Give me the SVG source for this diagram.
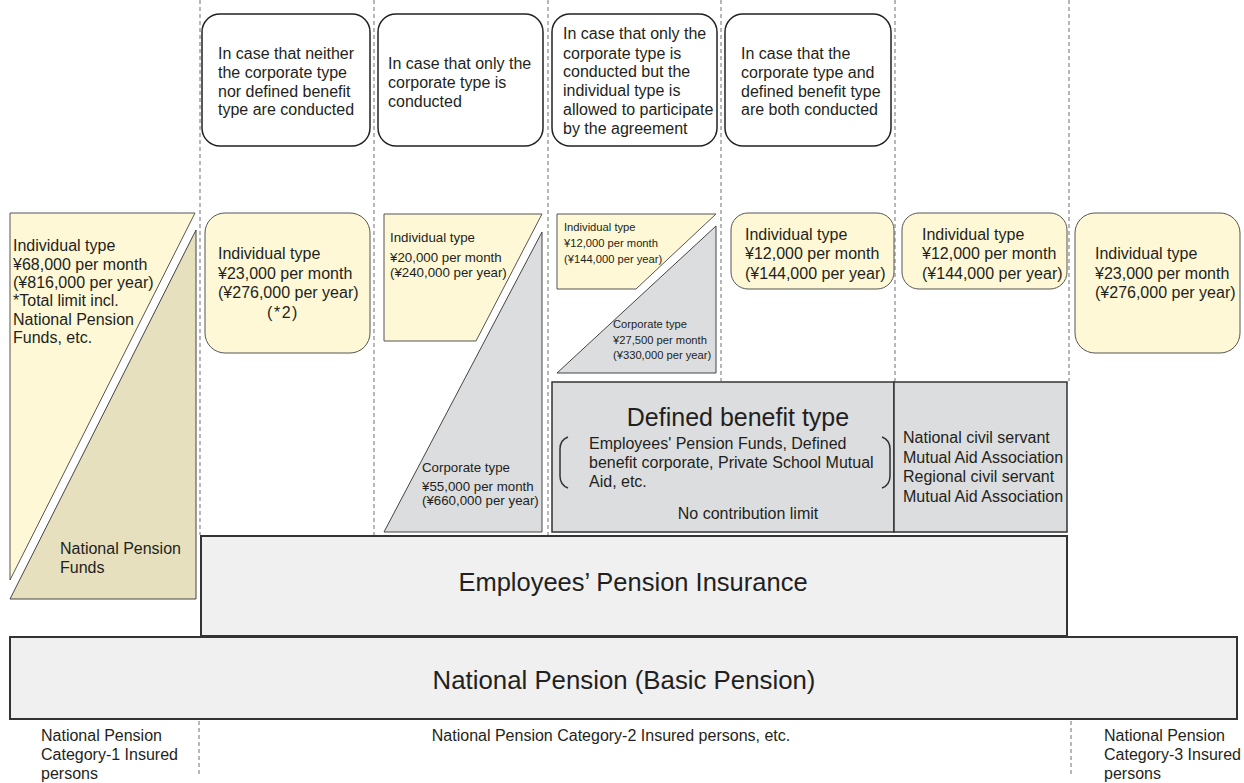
<svg xmlns="http://www.w3.org/2000/svg" width="1244" height="783" viewBox="0 0 1244 783">
<style>
text{font-family:"Liberation Sans",Arial,sans-serif;fill:#231f20}
.t16{font-size:16px}
.t13{font-size:13.3px}
.t11{font-size:11.2px}
.big{font-size:25px}
.case{fill:#fff;stroke:#222;stroke-width:1.5}
.yel{fill:#fef8d6;stroke:#555;stroke-width:1}
.beige{fill:#e6e0bf;stroke:#444;stroke-width:1}
.grey{fill:#dcdddf;stroke:#444;stroke-width:1}
.db{fill:#dcdddf;stroke:#333;stroke-width:1.5}
.base{fill:#eff0ef;stroke:#333;stroke-width:2}
.div{stroke:#888;stroke-width:1.2;stroke-dasharray:4 3;fill:none}
.brk{fill:none;stroke:#333;stroke-width:1.5}
.lab{font-size:16px}
</style>

<g id="dividers">
<line class="div" x1="200" y1="0" x2="200" y2="535"/>
<line class="div" x1="374" y1="0" x2="374" y2="535"/>
<line class="div" x1="548" y1="0" x2="548" y2="535"/>
<line class="div" x1="721" y1="0" x2="721" y2="381"/>
<line class="div" x1="895" y1="0" x2="895" y2="381"/>
<line class="div" x1="1069" y1="0" x2="1069" y2="381"/>
<line class="div" x1="199" y1="721" x2="199" y2="776"/>
<line class="div" x1="1071" y1="721" x2="1071" y2="776"/>
</g>

<g id="case1">
<rect class="case" x="202" y="14" width="168" height="132" rx="18"/>
<text class="t16"><tspan x="218" y="59">In case that neither</tspan><tspan x="218" y="78">the corporate type</tspan><tspan x="218" y="96.5">nor defined benefit</tspan><tspan x="218" y="115">type are conducted</tspan></text>
</g>
<g id="case2">
<rect class="case" x="378" y="14" width="165" height="132" rx="18"/>
<text class="t16"><tspan x="388" y="69">In case that only the</tspan><tspan x="388" y="88">corporate type is</tspan><tspan x="388" y="107">conducted</tspan></text>
</g>
<g id="case3">
<rect class="case" x="552" y="14" width="165" height="132" rx="18"/>
<text class="t16"><tspan x="563" y="39">In case that only the</tspan><tspan x="563" y="58.5">corporate type is</tspan><tspan x="563" y="77">conducted but the</tspan><tspan x="563" y="96">individual type is</tspan><tspan x="563" y="115">allowed to participate</tspan><tspan x="563" y="134">by the agreement</tspan></text>
</g>
<g id="case4">
<rect class="case" x="725" y="14" width="166" height="132" rx="18"/>
<text class="t16"><tspan x="741" y="59">In case that the</tspan><tspan x="741" y="78">corporate type and</tspan><tspan x="741" y="96.5">defined benefit type</tspan><tspan x="741" y="115">are both conducted</tspan></text>
</g>

<g id="cat1-individual">
<polygon class="yel" points="10,213 195,213 10,580"/>
<text class="t16"><tspan x="13" y="251">Individual type</tspan><tspan x="13" y="269.5">¥68,000 per month</tspan><tspan x="13" y="288">(¥816,000 per year)</tspan><tspan x="13" y="306">*Total limit incl.</tspan><tspan x="13" y="324.5">National Pension</tspan><tspan x="13" y="343">Funds, etc.</tspan></text>
</g>
<g id="national-pension-funds">
<polygon class="beige" points="196,230 196,599 10,599"/>
<text class="t16"><tspan x="60" y="554">National Pension</tspan><tspan x="60" y="573">Funds</tspan></text>
</g>

<g id="col1-individual">
<rect class="yel" x="205" y="213" width="165" height="140" rx="20"/>
<text class="t16"><tspan x="218" y="259">Individual type</tspan><tspan x="218" y="279">¥23,000 per month</tspan><tspan x="218" y="298">(¥276,000 per year)</tspan><tspan x="283" y="318" text-anchor="middle" letter-spacing="1.5">(*2)</tspan></text>
</g>

<g id="col2-individual">
<polygon class="yel" points="384,214 542,214 476,341 384,341"/>
<text class="t13"><tspan x="390" y="242">Individual type</tspan><tspan x="390" y="261.5">¥20,000 per month</tspan><tspan x="390" y="276.5">(¥240,000 per year)</tspan></text>
</g>
<g id="col2-corporate">
<polygon class="grey" points="542,232 542,532 384,532"/>
<text class="t13"><tspan x="422" y="471.5">Corporate type</tspan><tspan x="422" y="491">¥55,000 per month</tspan><tspan x="422" y="505">(¥660,000 per year)</tspan></text>
</g>

<g id="col3-individual">
<polygon class="yel" points="557,214 716,214 636,289 557,289"/>
<text class="t11"><tspan x="564" y="231">Individual type</tspan><tspan x="564" y="247">¥12,000 per month</tspan><tspan x="564" y="263">(¥144,000 per year)</tspan></text>
</g>
<g id="col3-corporate">
<polygon class="grey" points="716,226 716,373 557,373"/>
<text class="t11"><tspan x="613" y="328">Corporate type</tspan><tspan x="613" y="343.5">¥27,500 per month</tspan><tspan x="613" y="359">(¥330,000 per year)</tspan></text>
</g>

<g id="col4-individual">
<rect class="yel" x="731" y="213" width="163" height="76" rx="17"/>
<text class="t16"><tspan x="745" y="240">Individual type</tspan><tspan x="745" y="259">¥12,000 per month</tspan><tspan x="745" y="279">(¥144,000 per year)</tspan></text>
</g>
<g id="col5-individual">
<rect class="yel" x="902" y="213" width="165" height="76" rx="17"/>
<text class="t16"><tspan x="922" y="240">Individual type</tspan><tspan x="922" y="259">¥12,000 per month</tspan><tspan x="922" y="279">(¥144,000 per year)</tspan></text>
</g>
<g id="cat3-individual">
<rect class="yel" x="1075" y="213" width="165" height="140" rx="20"/>
<text class="t16"><tspan x="1095" y="259">Individual type</tspan><tspan x="1095" y="279">¥23,000 per month</tspan><tspan x="1095" y="298">(¥276,000 per year)</tspan></text>
</g>

<g id="defined-benefit">
<rect class="db" x="552" y="382" width="342" height="150"/>
<text class="big" x="738" y="426" text-anchor="middle">Defined benefit type</text>
<path class="brk" d="M568,437 Q560,440 560,449 L560,476 Q560,485 568,488"/>
<path class="brk" d="M882,437 Q890,440 890,449 L890,476 Q890,485 882,488"/>
<text class="t16"><tspan x="589" y="449">Employees' Pension Funds, Defined</tspan><tspan x="589" y="468">benefit corporate, Private School Mutual</tspan><tspan x="589" y="487">Aid, etc.</tspan></text>
<text class="t16" x="748" y="519" text-anchor="middle">No contribution limit</text>
</g>
<g id="mutual-aid">
<rect class="db" x="894" y="382" width="173" height="150"/>
<text class="t16"><tspan x="903" y="443">National civil servant</tspan><tspan x="903" y="463">Mutual Aid Association</tspan><tspan x="903" y="482">Regional civil servant</tspan><tspan x="903" y="502">Mutual Aid Association</tspan></text>
</g>

<g id="employees-pension">
<rect class="base" x="201" y="536" width="866" height="100"/>
<text style="font-size:25.5px" x="633" y="591" text-anchor="middle">Employees’ Pension Insurance</text>
</g>
<g id="national-pension">
<rect class="base" x="10" y="637" width="1227" height="82"/>
<text style="font-size:25.8px" x="624" y="689" text-anchor="middle">National Pension (Basic Pension)</text>
</g>

<g id="labels">
<text class="lab"><tspan x="41" y="741">National Pension</tspan><tspan x="41" y="760">Category-1 Insured</tspan><tspan x="41" y="779">persons</tspan></text>
<text class="lab" x="611" y="741" text-anchor="middle">National Pension Category-2 Insured persons, etc.</text>
<text class="lab"><tspan x="1104" y="741">National Pension</tspan><tspan x="1104" y="760">Category-3 Insured</tspan><tspan x="1104" y="779">persons</tspan></text>
</g>
</svg>
